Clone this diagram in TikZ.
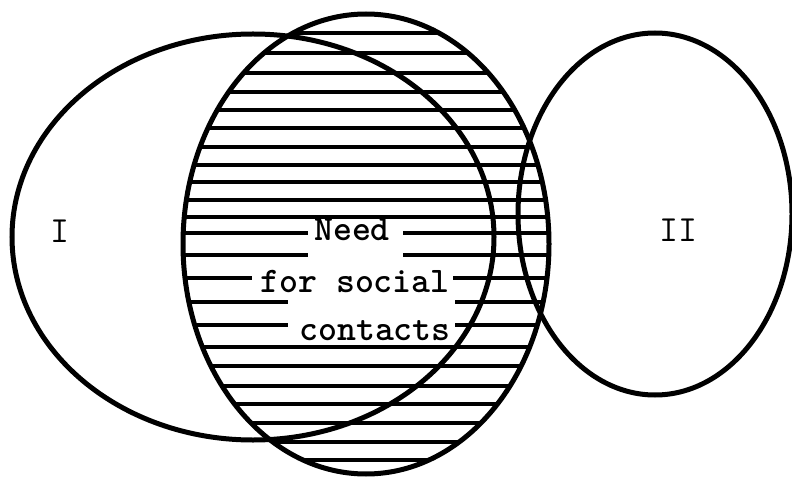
\documentclass[tikz,border=0pt]{standalone}
\begin{document}
\begin{tikzpicture}[x=0.2mm,y=-0.2mm,
    rim/.style={line width=1mm},
    hatch/.style={line width=0.8mm},
    setlabel/.style={font=\fontsize{21}{21}\selectfont\ttfamily},
    needtext/.style={font=\fontsize{20.5}{21}\selectfont\ttfamily\bfseries, anchor=base, inner sep=0pt}]
    \useasboundingbox (0,0) rectangle (792,480);
    \coordinate (setI) at (253,237);
    \coordinate (need) at (366,244);
    \coordinate (setII) at (655,214);
    \begin{scope}
      \clip (need) ellipse [x radius=183, y radius=230];
      \foreach \y in {33,53,73,92,110,128,147,165,182,200,217,233,255,278,302,325,347,366,386,404,423,442,460} {
        \draw[hatch] (170,\y) -- (560,\y);
      }
    \end{scope}
    \fill[white] (308,222) rectangle (403,264);
    \fill[white] (252,268) rectangle (453,290);
    \fill[white] (288,292) rectangle (455,336);
    \node[needtext] (l1) at (352,241) {Need};
    \node[needtext] (l2) at (355,292) {for social};
    \node[needtext] (l3) at (375,340) {contacts};
    \draw[rim] (setI) ellipse [x radius=241, y radius=203];
    \draw[rim] (need) ellipse [x radius=183, y radius=230];
    \draw[rim] (setII) ellipse [x radius=137, y radius=181];
    \node[setlabel] (labI) at (60,231) {I};
    \node[setlabel] (labII) at (678,230) {II};
\end{tikzpicture}
\end{document}
